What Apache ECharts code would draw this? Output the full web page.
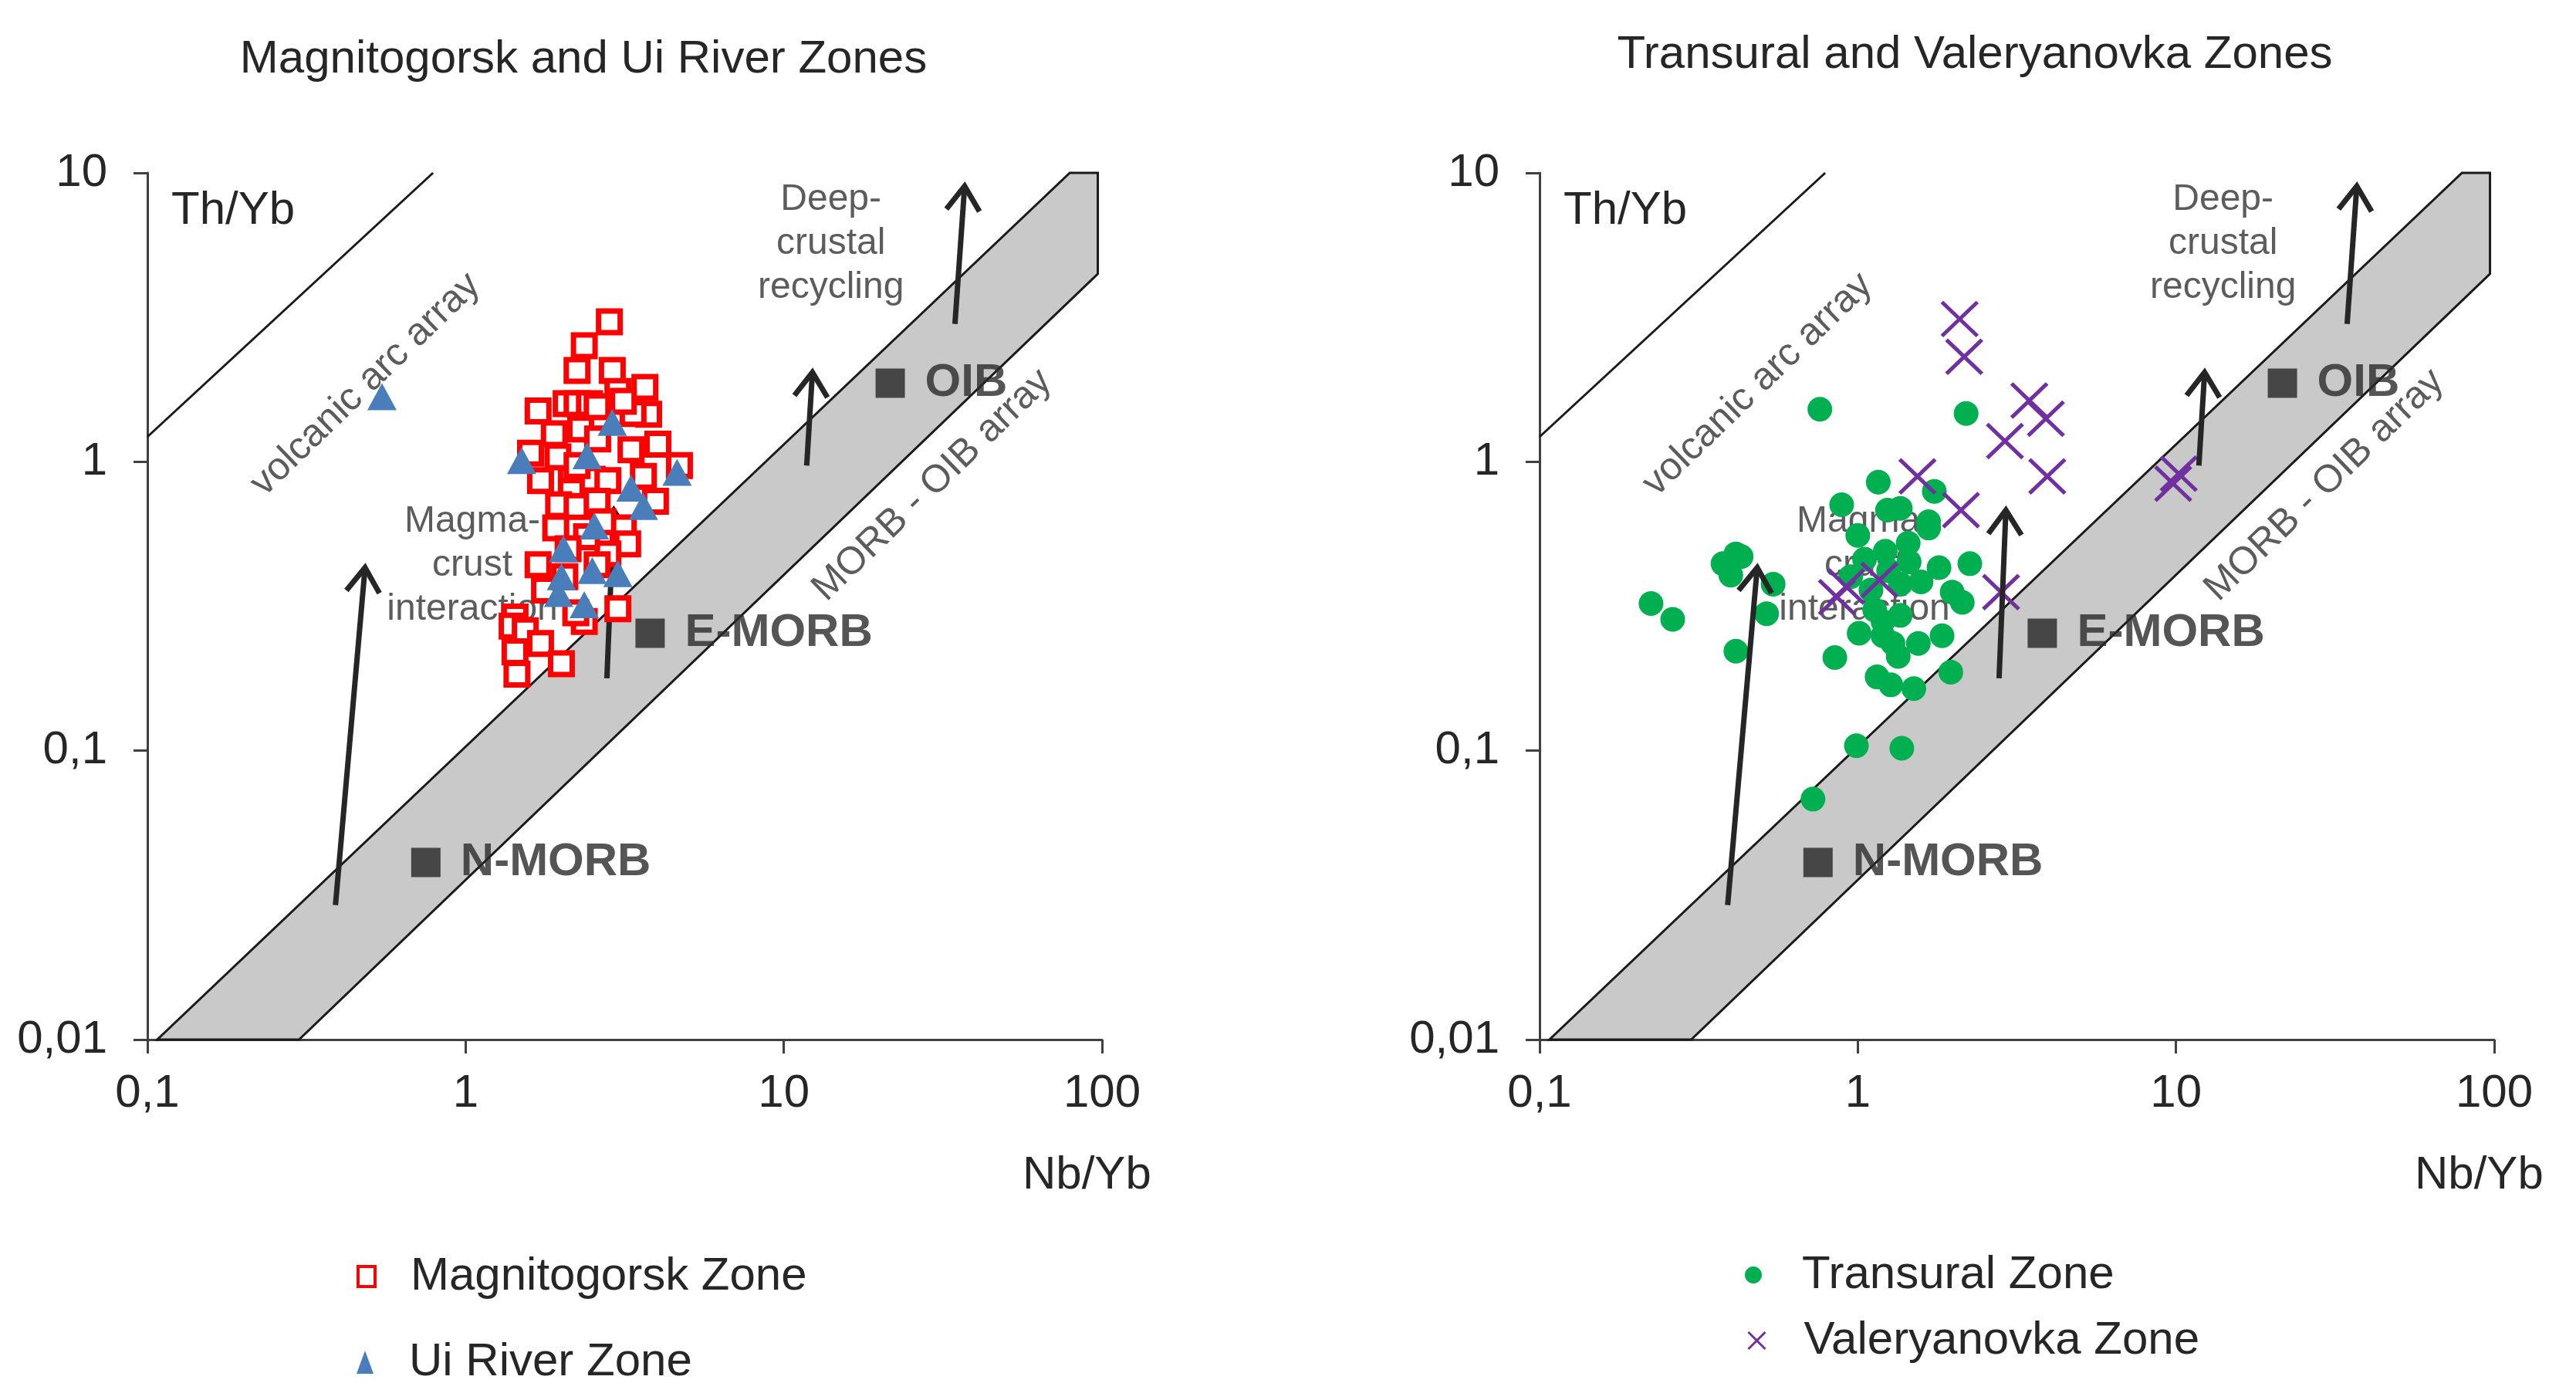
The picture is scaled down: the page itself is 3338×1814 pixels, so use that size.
<!DOCTYPE html>
<html><head><meta charset="utf-8">
<script src="https://cdn.jsdelivr.net/npm/echarts@6/dist/echarts.min.js"></script>
<style>html,body{margin:0;padding:0;background:#fff}#c{width:3338px;height:1814px}</style>
</head><body><div id="c"></div>
<script>
// ---------- tick labels ----------
const xTickValues = [0.1, 1, 10, 100];
const xTickLabels = ['0,1', '1', '10', '100'];
const yTickValues = [0.01, 0.1, 1, 10];
const yTickLabels = ['0,01', '0,1', '1', '10'];

const chartTitles = ['Magnitogorsk and Ui River Zones', 'Transural and Valeryanovka Zones'];
const xAxisName = 'Nb/Yb';
const yAxisName = 'Th/Yb';

// ---------- sample data (Nb/Yb, Th/Yb) ----------
const magnitogorskX = [2.83, 2.36, 2.24, 2.89, 3.66, 3.01, 1.69, 2.07, 2.24, 2.45, 2.59, 3.76, 3.36, 3.13, 4.02, 3.31, 1.60, 1.95, 4.70, 3.62,
  1.72, 2.15, 2.50, 2.80, 2.24, 2.15, 3.95, 1.96, 2.24, 2.59, 3.13, 3.23, 1.69, 1.92, 2.80, 2.59, 1.77, 3.01, 2.36, 1.43,
  1.40, 1.54, 1.72, 1.45, 2.00, 1.43, 2.22, 2.40, 2.10, 2.70, 2.30, 1.90, 2.60, 2.05];
const magnitogorskY = [3.05, 2.52, 2.07, 2.07, 1.81, 1.75, 1.50, 1.59, 1.59, 1.59, 1.55, 1.46, 1.47, 1.62, 1.15, 1.10, 1.07, 1.04, 0.97, 0.89,
  0.86, 0.87, 0.87, 0.86, 0.97, 0.79, 0.73, 0.71, 0.70, 0.73, 0.59, 0.52, 0.44, 0.59, 0.48, 0.44, 0.36, 0.31, 0.28, 0.29,
  0.27, 0.26, 0.235, 0.184, 0.20, 0.22, 0.30, 0.55, 0.50, 0.62, 1.30, 1.25, 1.20, 0.40];

const uiRiverX = [0.546, 2.89, 2.41, 1.50, 4.62, 3.31, 3.62, 2.54, 2.03, 3.01, 2.50, 1.96, 2.36, 2.00];
const uiRiverY = [1.68, 1.37, 1.05, 1.01, 0.92, 0.81, 0.70, 0.60, 0.50, 0.41, 0.42, 0.35, 0.32, 0.40];

const transuralX = [0.76, 2.19, 0.89, 1.16, 1.74, 1.24, 1.36, 1.67, 0.414, 0.377, 0.399, 0.43, 0.542, 0.224, 0.262, 0.517, 0.414, 0.847,
  1.00, 1.44, 1.67, 1.22, 1.05, 1.80, 2.25, 1.58, 1.36, 1.98, 2.13, 1.13, 1.36, 1.01, 1.20, 1.29, 1.55, 1.84, 1.34, 1.15,
  1.27, 1.50, 1.96, 0.99, 1.375, 0.723, 0.95, 1.25, 1.10, 1.45, 1.20];
const transuralY = [1.52, 1.47, 0.71, 0.85, 0.79, 0.68, 0.69, 0.62, 0.48, 0.444, 0.405, 0.47, 0.377, 0.323, 0.285, 0.298, 0.221, 0.21,
  0.556, 0.523, 0.59, 0.49, 0.46, 0.43, 0.444, 0.384, 0.377, 0.354, 0.326, 0.307, 0.294, 0.255, 0.25, 0.235, 0.235, 0.25, 0.212, 0.18,
  0.169, 0.164, 0.187, 0.104, 0.102, 0.068, 0.40, 0.42, 0.36, 0.45, 0.28];

const valeryanovkaX = [2.09, 2.16, 3.46, 3.90, 2.90, 3.94, 1.54, 2.11, 2.82, 1.17, 0.92, 0.86, 10.2, 9.8];
const valeryanovkaY = [3.12, 2.31, 1.63, 1.41, 1.18, 0.89, 0.89, 0.68, 0.354, 0.39, 0.37, 0.34, 0.91, 0.84];

// ---------- reference compositions ----------
const refNames = ['N-MORB', 'E-MORB', 'OIB'];
const refX = [0.75, 3.8, 21.6];
const refY = [0.041, 0.255, 1.87];

// ---------- MORB-OIB array (polygon vertices) ----------
const bandX = [0.1074, 0.2996, 97, 97, 79.2];
const bandY = [0.01, 0.01, 4.47, 10, 10];

// ---------- volcanic arc array boundary ----------
const arcLineX = [0.1, 0.79];
const arcLineY = [1.22, 10];

// ---------- trend arrows ----------
const arrowFromX = [0.39, 2.78, 11.8, 34.5];
const arrowFromY = [0.0292, 0.178, 0.97, 3.0];
const arrowToX = [0.483, 2.92, 12.3, 37.0];
const arrowToY = [0.43, 0.68, 2.04, 9.0];

// ---------- annotations ----------
const annoText = ['Deep-\ncrustal\nrecycling', 'Magma-\ncrust\ninteraction'];
const annoX = [14.06, 1.05];
const annoY = [5.68, 0.4385];
const rotText = ['volcanic arc array', 'MORB - OIB array'];
const rotX = [0.485, 29.3];
const rotY = [1.851, 0.829];

// ====================================================
const FONT = "'Liberation Sans', Arial, sans-serif";
const TXT = '#262626';
const AX = '#404040';

function pairs(xs, ys) { return xs.map((x, i) => [x, ys[i]]); }
function tickFmt(values, labels) {
  return v => {
    for (let i = 0; i < values.length; i++) {
      if (Math.abs(Math.log10(v) - Math.log10(values[i])) < 1e-6) return labels[i];
    }
    return '';
  };
}

function bandRender(params, api) {
  if (params.dataIndex !== 0) return null;
  const pts = bandX.map((x, i) => api.coord([x, bandY[i]]));
  return { type: 'polygon', shape: { points: pts }, style: { fill: '#c9c9c9', stroke: '#1a1a1a', lineWidth: 3 } };
}

function arrowRender(params, api) {
  const p1 = api.coord([api.value(0), api.value(1)]);
  const p2 = api.coord([api.value(2), api.value(3)]);
  const ang = Math.atan2(p2[1] - p1[1], p2[0] - p1[0]);
  const L = 38, a = 0.6;
  const h1 = [p2[0] - L * Math.cos(ang - a), p2[1] - L * Math.sin(ang - a)];
  const h2 = [p2[0] - L * Math.cos(ang + a), p2[1] - L * Math.sin(ang + a)];
  return {
    type: 'group', children: [
      { type: 'line', shape: { x1: p1[0], y1: p1[1], x2: p2[0], y2: p2[1] }, style: { stroke: '#262626', lineWidth: 7 } },
      { type: 'polyline', shape: { points: [h1, p2, h2] }, style: { stroke: '#262626', lineWidth: 7, fill: null, lineJoin: 'miter' } }
    ]
  };
}

function xAxisFor(gi) {
  return {
    type: 'log', logBase: 10, min: 0.1, max: 100, gridIndex: gi,
    axisLine: { show: true, onZero: false, lineStyle: { color: AX, width: 3 } },
    axisTick: { show: true, inside: false, length: 18, lineStyle: { color: AX, width: 3 } },
    splitLine: { show: false }, minorTick: { show: false },
    axisLabel: { fontSize: 60, fontFamily: FONT, color: TXT, margin: 40, formatter: tickFmt(xTickValues, xTickLabels) },
    name: xAxisName, nameLocation: 'end', nameGap: -103, nameMoveOverlap: false,
    nameTextStyle: { fontSize: 60, fontFamily: FONT, color: TXT, align: 'left', verticalAlign: 'top', lineHeight: 60, padding: [146, 0, 0, 0] }
  };
}
function yAxisFor(gi) {
  return {
    type: 'log', logBase: 10, min: 0.01, max: 10, gridIndex: gi,
    axisLine: { show: true, onZero: false, lineStyle: { color: AX, width: 3 } },
    axisTick: { show: true, inside: false, length: 18, lineStyle: { color: AX, width: 3 } },
    splitLine: { show: false }, minorTick: { show: false },
    axisLabel: { fontSize: 60, fontFamily: FONT, color: TXT, margin: 52, formatter: tickFmt(yTickValues, yTickLabels) },
    name: yAxisName, nameLocation: 'end', nameGap: -49, nameMoveOverlap: false,
    nameTextStyle: { fontSize: 60, fontFamily: FONT, color: TXT, align: 'left', verticalAlign: 'middle', lineHeight: 60, padding: [0, 0, 0, 31] }
  };
}

function commonSeries(gi) {
  return [
    { type: 'custom', xAxisIndex: gi, yAxisIndex: gi, z: 1, silent: true, clip: false,
      data: pairs(bandX, bandY), renderItem: bandRender },
    { type: 'line', xAxisIndex: gi, yAxisIndex: gi, z: 2, silent: true, symbol: 'none',
      data: pairs(arcLineX, arcLineY), lineStyle: { color: '#1a1a1a', width: 3 } },
    { type: 'scatter', xAxisIndex: gi, yAxisIndex: gi, z: 3, silent: true, symbolSize: 0,
      data: pairs(annoX, annoY),
      label: { show: true, position: 'inside', formatter: p => annoText[p.dataIndex], fontSize: 48, lineHeight: 57,
        fontFamily: FONT, color: '#333', align: 'center', verticalAlign: 'middle' } },
    { type: 'scatter', xAxisIndex: gi, yAxisIndex: gi, z: 3, silent: true, symbolSize: 0,
      data: pairs(rotX, rotY),
      label: { show: true, position: 'inside', rotate: 44, formatter: p => rotText[p.dataIndex], fontSize: 50,
        fontFamily: FONT, color: '#333', align: 'center', verticalAlign: 'middle' } }
  ];
}
function refSeries(gi) {
  return { type: 'scatter', xAxisIndex: gi, yAxisIndex: gi, z: 6, silent: true, symbol: 'rect', symbolSize: 38,
    data: pairs(refX, refY), itemStyle: { color: '#262626' },
    label: { show: true, position: 'right', distance: 26, formatter: p => refNames[p.dataIndex],
      fontSize: 60, fontWeight: 'bold', fontFamily: FONT, color: '#2a2a2a' } };
}
function arrowSeries(gi, z) {
  return { type: 'custom', xAxisIndex: gi, yAxisIndex: gi, z: z, silent: true, clip: false,
    data: arrowFromX.map((x, i) => [x, arrowFromY[i], arrowToX[i], arrowToY[i]]),
    encode: { x: [0, 2], y: [1, 3] }, renderItem: arrowRender };
}

const series = [
  ...commonSeries(0),
  arrowSeries(0, 3),
  { name: 'Magnitogorsk Zone', type: 'scatter', xAxisIndex: 0, yAxisIndex: 0, z: 4, symbol: 'rect', symbolSize: 28,
    data: pairs(magnitogorskX, magnitogorskY), itemStyle: { color: '#ffffff', borderColor: '#ff0000', borderWidth: 7, opacity: 1 } },
  { name: 'Ui River Zone', type: 'scatter', xAxisIndex: 0, yAxisIndex: 0, z: 5, symbol: 'triangle', symbolSize: [38, 35],
    data: pairs(uiRiverX, uiRiverY), itemStyle: { color: '#4a7ebb', opacity: 1 } },
  refSeries(0),
  ...commonSeries(1),
  { name: 'Transural Zone', type: 'scatter', xAxisIndex: 1, yAxisIndex: 1, z: 4, symbol: 'circle', symbolSize: 32,
    data: pairs(transuralX, transuralY), itemStyle: { color: '#00b050', opacity: 1 } },
  { name: 'Valeryanovka Zone', type: 'scatter', xAxisIndex: 1, yAxisIndex: 1, z: 5, symbol: 'path://M0,0L10,10M10,0L0,10', symbolSize: [46, 44],
    data: pairs(valeryanovkaX, valeryanovkaY), itemStyle: { color: 'none', borderColor: '#7030a0', borderWidth: 5, opacity: 1 } },
  refSeries(1),
  arrowSeries(1, 7)
];

function legendFor(name, left, top, w, h, pad, itemStyle) {
  return {
    data: [name], left: left, top: top, orient: 'vertical', padding: 0, itemWidth: w, itemHeight: h,
    selectedMode: false, itemStyle: itemStyle,
    textStyle: { fontSize: 60, fontFamily: FONT, color: TXT, lineHeight: 60, padding: [0, 0, 0, pad] }
  };
}

const option = {
  animation: false,
  backgroundColor: '#ffffff',
  grid: [
    { left: 191, top: 224, width: 1237, height: 1123, containLabel: false, outerBoundsMode: 'none' },
    { left: 1995, top: 224, width: 1237, height: 1123, containLabel: false, outerBoundsMode: 'none' }
  ],
  xAxis: [xAxisFor(0), xAxisFor(1)],
  yAxis: [yAxisFor(0), yAxisFor(1)],
  legend: [
    legendFor('Magnitogorsk Zone', 462, 1624, 22, 26, 41, { borderWidth: 4 }),
    legendFor('Ui River Zone', 462, 1735, 22, 30, 41, {}),
    legendFor('Transural Zone', 2261, 1622, 22, 28, 47, {}),
    legendFor('Valeryanovka Zone', 2263, 1707, 22, 26, 45, { borderWidth: 3 })
  ],
  graphic: [
    { type: 'text', x: 756, y: 77, silent: true,
      style: { text: chartTitles[0], fontSize: 60, fontFamily: FONT, fill: TXT, align: 'center', verticalAlign: 'middle' } },
    { type: 'text', x: 2559, y: 71, silent: true,
      style: { text: chartTitles[1], fontSize: 60, fontFamily: FONT, fill: TXT, align: 'center', verticalAlign: 'middle' } }
  ],
  series: series
};

const chart = echarts.init(document.getElementById('c'), null, { renderer: 'canvas' });
chart.setOption(option);
</script>
</body></html>
